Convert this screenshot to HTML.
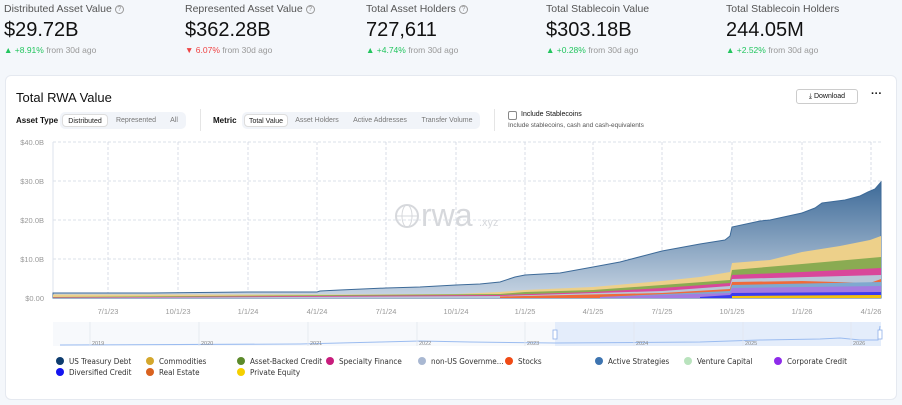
<!DOCTYPE html>
<html><head><meta charset="utf-8"><style>
*{box-sizing:border-box;margin:0;padding:0}
body{width:902px;height:405px;background:#f4f7fb;font-family:"Liberation Sans",sans-serif;color:#111;position:relative;overflow:hidden}
.k{position:absolute;top:3px}
.k .l{font-size:10.5px;color:#555}
.k .v{font-size:20px;margin-top:4px;color:#111}
.k .c{font-size:8.5px;color:#999;margin-top:3px}
.g{color:#22c55e}.r{color:#ef4444}
.q{display:inline-block;width:9px;height:9px;border:1px solid #999;border-radius:50%;font-size:7px;text-align:center;line-height:8px;color:#999;margin-left:3px;vertical-align:1px}
.card{position:absolute;left:5px;top:75px;width:892px;height:325px;background:#fff;border:1px solid #e5e9f0;border-radius:6px}
.a{position:absolute;font-size:8px;color:#111}
.seg{position:absolute;background:#f1f4f9;border-radius:5px;height:17px;top:112px}
.seg span{position:absolute;top:2px;height:13px;font-size:7px;color:#777;line-height:13px;text-align:center}
.seg .on{background:#fff;border:1px solid #ddd;border-radius:4px;color:#222}
.lg{position:absolute;font-size:8px;color:#333;font-family:"DejaVu Sans Condensed","Liberation Sans Narrow","Liberation Sans",sans-serif}
.lg i{display:inline-block;width:8px;height:8px;border-radius:50%;vertical-align:-1px;margin-right:5px}
</style></head><body>
<div class="k" style="left:4px"><div class="l">Distributed Asset Value<span class="q">?</span></div><div class="v">$29.72B</div><div class="c"><span class="g">▲ +8.91%</span> from 30d ago</div></div>
<div class="k" style="left:185px"><div class="l">Represented Asset Value<span class="q">?</span></div><div class="v">$362.28B</div><div class="c"><span class="r">▼ 6.07%</span> from 30d ago</div></div>
<div class="k" style="left:366px"><div class="l">Total Asset Holders<span class="q">?</span></div><div class="v">727,611</div><div class="c"><span class="g">▲ +4.74%</span> from 30d ago</div></div>
<div class="k" style="left:546px"><div class="l">Total Stablecoin Value</div><div class="v">$303.18B</div><div class="c"><span class="g">▲ +0.28%</span> from 30d ago</div></div>
<div class="k" style="left:726px"><div class="l">Total Stablecoin Holders</div><div class="v">244.05M</div><div class="c"><span class="g">▲ +2.52%</span> from 30d ago</div></div>
<div class="card"></div>
<div class="a" style="left:16px;top:90px;font-size:13px">Total RWA Value</div>
<div class="a" style="left:796px;top:89px;width:62px;height:15px;border:1px solid #ccc;border-radius:3px;font-size:7px;text-align:center;line-height:13px">⤓ Download</div>
<div class="a" style="left:871px;top:88px;font-size:11px;font-weight:bold">···</div>
<div class="a" style="left:16px;top:116px;font-weight:bold">Asset Type</div>
<div class="seg" style="left:60px;width:126px"><span class="on" style="left:2px;width:46px">Distributed</span><span style="left:52px;width:48px">Represented</span><span style="left:104px;width:20px">All</span></div>
<div style="position:absolute;left:200px;top:109px;width:1px;height:22px;background:#e5e5e5"></div>
<div class="a" style="left:213px;top:116px;font-weight:bold">Metric</div>
<div class="seg" style="left:242px;width:238px"><span class="on" style="left:2px;width:44px">Total Value</span><span style="left:50px;width:50px">Asset Holders</span><span style="left:106px;width:64px">Active Addresses</span><span style="left:176px;width:58px">Transfer Volume</span></div>
<div style="position:absolute;left:494px;top:109px;width:1px;height:22px;background:#e5e5e5"></div>
<div style="position:absolute;left:508px;top:111px;width:9px;height:9px;border:1px solid #888;border-radius:2px"></div>
<div class="a" style="left:521px;top:111px;font-size:7px">Include Stablecoins</div>
<div class="a" style="left:508px;top:122px;font-size:6.5px;color:#555">Include stablecoins, cash and cash-equivalents</div>
<svg style="position:absolute;left:0;top:0" width="902" height="405" font-family="Liberation Sans,sans-serif">
<defs><linearGradient id="bg" x1="0" y1="0" x2="0" y2="1"><stop offset="0" stop-color="#3d6a98"/><stop offset="1" stop-color="#c9d6e4"/></linearGradient></defs>
<g stroke="#cfd6e2" stroke-dasharray="3,2" stroke-width="0.8">
<line x1="53" y1="142" x2="881" y2="142"/><line x1="53" y1="181" x2="881" y2="181"/><line x1="53" y1="220" x2="881" y2="220"/><line x1="53" y1="259" x2="881" y2="259"/>
<line x1="108" y1="142" x2="108" y2="298"/><line x1="178" y1="142" x2="178" y2="298"/><line x1="248" y1="142" x2="248" y2="298"/><line x1="317" y1="142" x2="317" y2="298"/><line x1="386" y1="142" x2="386" y2="298"/><line x1="456" y1="142" x2="456" y2="298"/><line x1="525" y1="142" x2="525" y2="298"/><line x1="593" y1="142" x2="593" y2="298"/><line x1="662" y1="142" x2="662" y2="298"/><line x1="732" y1="142" x2="732" y2="298"/><line x1="802" y1="142" x2="802" y2="298"/><line x1="871" y1="142" x2="871" y2="298"/>
</g>
<line x1="53" y1="142" x2="53" y2="298" stroke="#dde3ec"/>
<g fill="#999" font-size="7.5" text-anchor="end"><text x="44" y="145">$40.0B</text><text x="44" y="184">$30.0B</text><text x="44" y="223">$20.0B</text><text x="44" y="262">$10.0B</text><text x="44" y="301">$0.00</text></g>
<g fill="#999" font-size="7.5" text-anchor="middle"><text x="108" y="314">7/1/23</text><text x="178" y="314">10/1/23</text><text x="248" y="314">1/1/24</text><text x="317" y="314">4/1/24</text><text x="386" y="314">7/1/24</text><text x="456" y="314">10/1/24</text><text x="525" y="314">1/1/25</text><text x="593" y="314">4/1/25</text><text x="662" y="314">7/1/25</text><text x="732" y="314">10/1/25</text><text x="802" y="314">1/1/26</text><text x="871" y="314">4/1/26</text></g>
<g fill="#d6d8dc" stroke="#d6d8dc"><circle cx="407" cy="216" r="11" fill="none" stroke-width="2"/><ellipse cx="407" cy="216" rx="5" ry="11" fill="none" stroke-width="1"/><line x1="396" y1="216" x2="418" y2="216" stroke-width="1"/><text x="421" y="226" font-size="32" stroke="none">rwa</text><text x="479" y="226" font-size="11" stroke="none">.xyz</text></g>
<polygon fill="url(#bg)" stroke="#3d6a98" stroke-width="1" points="53,293 150,293 248,292 317,292 320,291 340,290 386,288 420,287 456,285 480,284 500,282 515,277 525,275 560,273 593,267 620,262 662,251 700,244 725,240 730,236 732,227 760,221 770,220 802,213 815,208 822,203 845,200 860,196 868,192 875,189 881,182 881,298 53,298"/>
<polygon fill="#edd08a" points="53,294.5 340,294.5 456,294 500,292 525,290 593,287 662,281 700,277 730,272 732,263 770,260 802,252 840,246 860,242 870,240 881,236 881,298 53,298"/>
<polygon fill="#8aab52" points="53,297 500,294 525,292 593,290 662,285 730,280 732,270 802,264 881,257 881,298 53,298"/>
<polygon fill="#d9479a" points="53,297.5 500,295 593,292 662,288 730,283 732,275 802,272 881,268 881,298 53,298"/>
<polygon fill="#b9c6d8" points="53,298 500,296 662,291 730,286 732,279 881,275 881,298 53,298"/>
<polygon fill="#f06a3a" points="500,296.5 662,293 730,289 732,282 802,281 870,283 881,279 881,298 500,298"/>
<polygon fill="#7fa9cf" points="600,297 730,291 732,285 881,282 881,298 600,298"/>
<polygon fill="#a57be0" points="600,297 662,295 730,293 732,288 881,286 881,298 600,298"/>
<polygon fill="#3b3bf0" points="700,297 730,295 732,293 881,292 881,298 700,298"/>
<polygon fill="#f4c20d" points="732,296 881,295 881,298 732,298"/>
<rect x="53" y="322" width="828" height="24" fill="#f7f9fc"/>
<rect x="555" y="322" width="326" height="24" fill="#e4edfb"/>
<polyline fill="none" stroke="#9bbcf0" stroke-width="1" points="60,345 300,344 380,342 420,341 470,342 555,343 700,342 760,340 820,339 840,338 860,340 878,340 880,326"/>
<g stroke="#e2e6ee" stroke-width="0.8"><line x1="90" y1="322" x2="90" y2="346"/><line x1="199" y1="322" x2="199" y2="346"/><line x1="308" y1="322" x2="308" y2="346"/><line x1="417" y1="322" x2="417" y2="346"/><line x1="525" y1="322" x2="525" y2="346"/><line x1="634" y1="322" x2="634" y2="346"/><line x1="743" y1="322" x2="743" y2="346"/><line x1="851" y1="322" x2="851" y2="346"/></g>
<g fill="#888" font-size="5.5"><text x="92" y="345">2019</text><text x="201" y="345">2020</text><text x="310" y="345">2021</text><text x="419" y="345">2022</text><text x="527" y="345">2023</text><text x="636" y="345">2024</text><text x="745" y="345">2025</text><text x="853" y="345">2026</text></g>
<rect x="553" y="330" width="4" height="9" fill="#fff" stroke="#8fb0e8" stroke-width="0.8"/>
<rect x="878" y="330" width="4" height="9" fill="#fff" stroke="#8fb0e8" stroke-width="0.8"/>
</svg>
<div class="lg" style="left:56px;top:357px"><i style="background:#0d3c6e"></i>US Treasury Debt</div>
<div class="lg" style="left:146px;top:357px"><i style="background:#d4a72c"></i>Commodities</div>
<div class="lg" style="left:237px;top:357px"><i style="background:#5c8a2b"></i>Asset-Backed Credit</div>
<div class="lg" style="left:326px;top:357px"><i style="background:#c81c7c"></i>Specialty Finance</div>
<div class="lg" style="left:418px;top:357px"><i style="background:#a9b8d2"></i>non-US Governme...</div>
<div class="lg" style="left:505px;top:357px"><i style="background:#f04a15"></i>Stocks</div>
<div class="lg" style="left:595px;top:357px"><i style="background:#3d74b0"></i>Active Strategies</div>
<div class="lg" style="left:684px;top:357px"><i style="background:#b9e3bd"></i>Venture Capital</div>
<div class="lg" style="left:774px;top:357px"><i style="background:#8e2bea"></i>Corporate Credit</div>
<div class="lg" style="left:56px;top:368px"><i style="background:#1414f0"></i>Diversified Credit</div>
<div class="lg" style="left:146px;top:368px"><i style="background:#d9621f"></i>Real Estate</div>
<div class="lg" style="left:237px;top:368px"><i style="background:#f5d000"></i>Private Equity</div>
</body></html>
